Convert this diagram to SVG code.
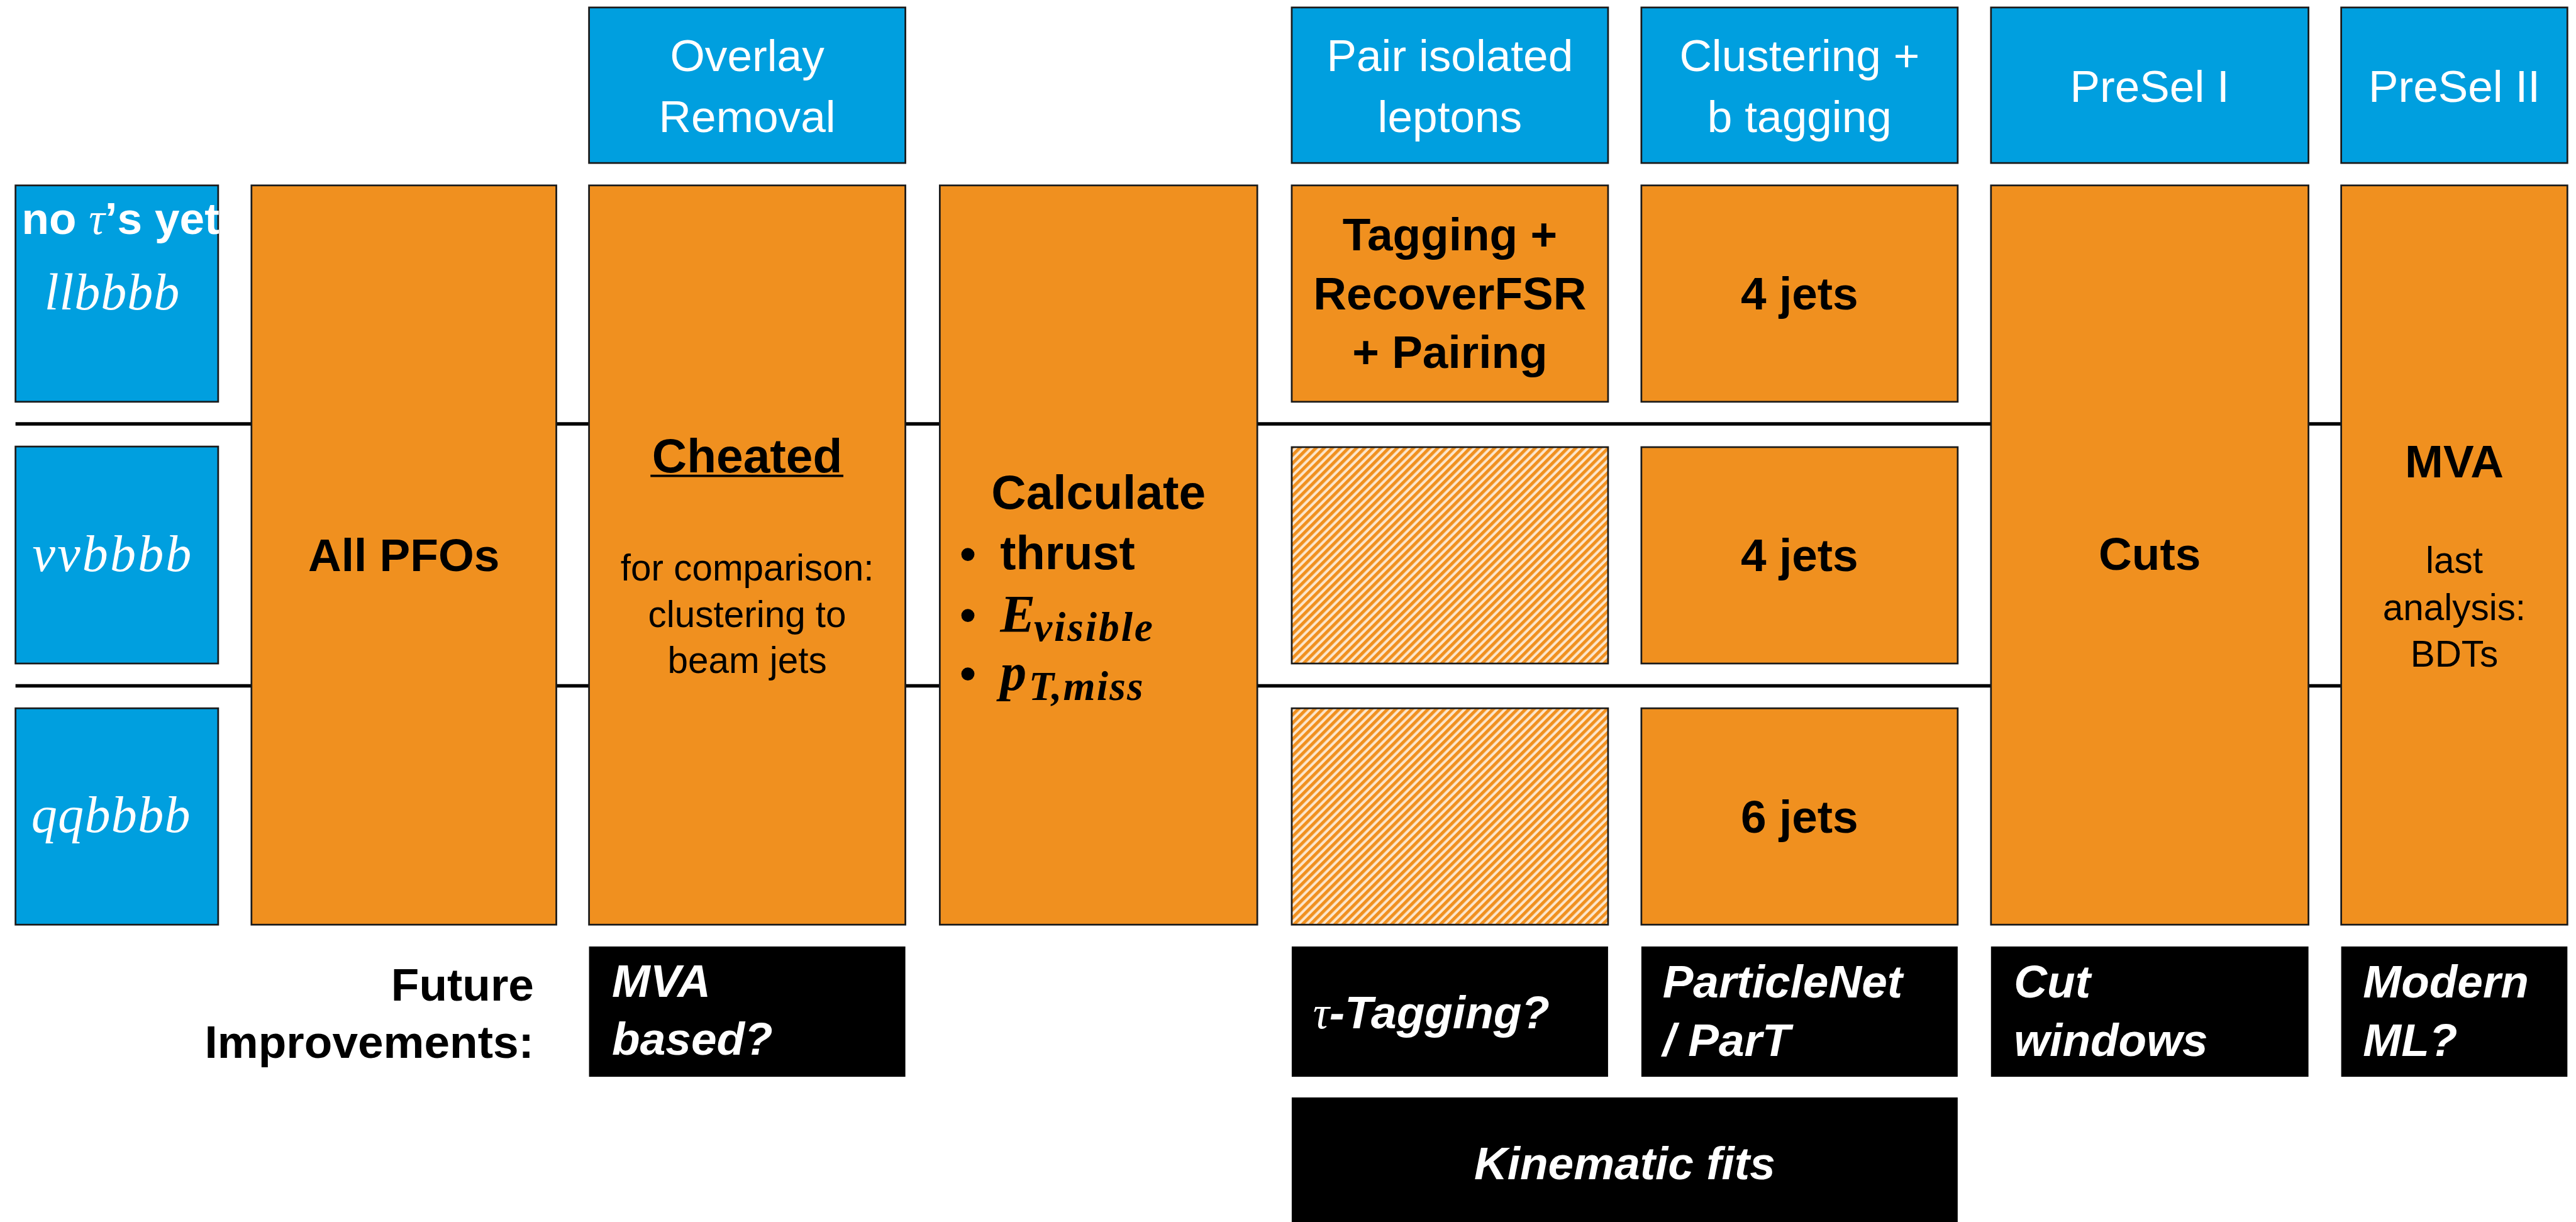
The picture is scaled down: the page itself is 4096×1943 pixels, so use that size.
<svg xmlns="http://www.w3.org/2000/svg" width="4096" height="1943" viewBox="0 0 4096 1943">
<style>
.blue{fill:#009FDF;stroke:#1a1a1a;stroke-width:3}
.orange{fill:#F0901F;stroke:#1a1a1a;stroke-width:3}
.hatch{fill:url(#hatch);stroke:#1a1a1a;stroke-width:3}
.black{fill:#000}
.conn{stroke:#000;stroke-width:6;fill:none}
.hd{font-family:"Liberation Sans",Arial,sans-serif;font-size:78px;fill:#fff;text-anchor:middle}
.bl{font-family:"Liberation Sans",Arial,sans-serif;font-size:80px;font-weight:bold;fill:#000;text-anchor:middle}
.bls{font-family:"Liberation Sans",Arial,sans-serif;font-size:80px;font-weight:bold;fill:#000;text-anchor:start}
.ble{font-family:"Liberation Sans",Arial,sans-serif;font-size:80px;font-weight:bold;fill:#000;text-anchor:end}
.rg{font-family:"Liberation Sans",Arial,sans-serif;font-size:64px;fill:#000;text-anchor:middle}
.fi{font-family:"Liberation Sans",Arial,sans-serif;font-size:80px;font-weight:bold;font-style:italic;fill:#fff}
.mw{font-family:"Liberation Serif","DejaVu Serif",serif;font-style:italic;font-size:90px;fill:#fff;text-anchor:middle}
.mb{font-family:"Liberation Serif","DejaVu Serif",serif;font-style:italic;font-weight:bold;fill:#000}
</style>
<defs>
<pattern id="hatch" patternUnits="userSpaceOnUse" width="10" height="10" patternTransform="rotate(45)">
<rect width="10" height="10" fill="#FCE6CC"/>
<rect width="5.5" height="10" fill="#F0901F"/>
</pattern>
</defs>
<rect width="4096" height="1943" fill="#fff"/>
<g transform="scale(0.91286,0.91263)">
<g id="connectors">
<line class="conn" x1="27" y1="738.5" x2="4078" y2="738.5"/>
<line class="conn" x1="27" y1="1195" x2="4078" y2="1195"/>
</g>

<g id="hdr-overlay"><rect class="blue" x="1026" y="13" width="551" height="271"/>
<text class="hd" x="1301.5" y="124">Overlay</text><text class="hd" x="1301.5" y="230">Removal</text></g>
<g id="hdr-pair"><rect class="blue" x="2250" y="13" width="551" height="271"/>
<text class="hd" x="2525.5" y="124">Pair isolated</text><text class="hd" x="2525.5" y="230">leptons</text></g>
<g id="hdr-cluster"><rect class="blue" x="2859" y="13" width="551" height="271"/>
<text class="hd" x="3134.5" y="124">Clustering +</text><text class="hd" x="3134.5" y="230">b tagging</text></g>
<g id="hdr-presel1"><rect class="blue" x="3468" y="13" width="553" height="271"/>
<text class="hd" x="3744.5" y="177">PreSel I</text></g>
<g id="hdr-presel2"><rect class="blue" x="4078" y="13" width="394" height="271"/>
<text class="hd" x="4275" y="177">PreSel II</text></g>

<g id="llbbbb"><rect class="blue" x="27" y="323" width="353" height="377"/>
<text x="210" y="408" text-anchor="middle" fill="#fff" font-family="Liberation Sans,Arial,sans-serif" font-weight="bold" font-size="78">no <tspan font-family="Liberation Serif,serif" font-style="italic" font-weight="normal">τ</tspan>’s yet</text>
<text class="mw" x="195" y="539" textLength="235">llbbbb</text></g>
<g id="vvbbbb"><rect class="blue" x="27" y="778" width="353" height="378"/>
<text class="mw" x="195" y="995" textLength="277">vvbbbb</text></g>
<g id="qqbbbb"><rect class="blue" x="27" y="1234" width="353" height="377"/>
<text class="mw" x="193" y="1450" textLength="277">qqbbbb</text></g>

<g id="allpfos"><rect class="orange" x="438" y="323" width="531" height="1288"/>
<text class="bl" x="703.5" y="995">All PFOs</text></g>

<g id="cheated"><rect class="orange" x="1026" y="323" width="551" height="1288"/>
<text class="bl" x="1301.5" y="823" style="font-size:84px">Cheated</text>
<line x1="1133" y1="829" x2="1469" y2="829" stroke="#000" stroke-width="4"/>
<text class="rg" x="1301.5" y="1011">for comparison:</text>
<text class="rg" x="1301.5" y="1092">clustering to</text>
<text class="rg" x="1301.5" y="1172">beam jets</text></g>

<g id="calculate"><rect class="orange" x="1637" y="323" width="553" height="1288"/>
<text class="bl" x="1913.5" y="887" style="font-size:84px">Calculate</text>
<text class="bls" x="1672" y="992">•</text>
<text class="bls" x="1742" y="992" style="font-size:83px">thrust</text>
<text class="bls" x="1672" y="1098">•</text>
<text class="mb" x="1742" y="1101" font-size="92">E</text>
<text class="mb" x="1801" y="1117" font-size="72" textLength="207">visible</text>
<text class="bls" x="1672" y="1200">•</text>
<text class="mb" x="1742" y="1202" font-size="92">p</text>
<text class="mb" x="1792" y="1220" font-size="72" textLength="199">T,miss</text></g>

<g id="tagging"><rect class="orange" x="2250" y="323" width="551" height="377"/>
<text class="bl" x="2525.5" y="436">Tagging +</text>
<text class="bl" x="2525.5" y="539">RecoverFSR</text>
<text class="bl" x="2525.5" y="641">+ Pairing</text></g>
<g id="hatch-vv"><rect class="hatch" x="2250" y="779" width="551" height="377"/></g>
<g id="hatch-qq"><rect class="hatch" x="2250" y="1234" width="551" height="377"/></g>

<g id="jets-ll"><rect class="orange" x="2859" y="323" width="551" height="377"/>
<text class="bl" x="3134.5" y="539">4 jets</text></g>
<g id="jets-vv"><rect class="orange" x="2859" y="779" width="551" height="377"/>
<text class="bl" x="3134.5" y="995">4 jets</text></g>
<g id="jets-qq"><rect class="orange" x="2859" y="1234" width="551" height="377"/>
<text class="bl" x="3134.5" y="1451">6 jets</text></g>

<g id="cuts"><rect class="orange" x="3468" y="323" width="553" height="1288"/>
<text class="bl" x="3744.5" y="993">Cuts</text></g>
<g id="mva"><rect class="orange" x="4078" y="323" width="394" height="1288"/>
<text class="bl" x="4275" y="832">MVA</text>
<text class="rg" x="4275" y="998">last</text>
<text class="rg" x="4275" y="1080">analysis:</text>
<text class="rg" x="4275" y="1161">BDTs</text></g>

<g id="future-label">
<text class="ble" x="930" y="1743">Future</text>
<text class="ble" x="930" y="1843">Improvements:</text></g>
<g id="fut-mva"><rect class="black" x="1026" y="1649" width="551" height="227"/>
<text class="fi" x="1066" y="1737">MVA</text><text class="fi" x="1066" y="1838">based?</text></g>
<g id="fut-tau"><rect class="black" x="2250" y="1649" width="551" height="227"/>
<text class="fi" x="2287" y="1792"><tspan font-family="Liberation Serif,serif" font-weight="normal">τ</tspan>-Tagging?</text></g>
<g id="fut-pnet"><rect class="black" x="2859" y="1649" width="551" height="227"/>
<text class="fi" x="2896" y="1738">ParticleNet</text><text class="fi" x="2896" y="1840">/ ParT</text></g>
<g id="fut-cut"><rect class="black" x="3468" y="1649" width="553" height="227"/>
<text class="fi" x="3508" y="1738">Cut</text><text class="fi" x="3508" y="1840">windows</text></g>
<g id="fut-ml"><rect class="black" x="4078" y="1649" width="394" height="227"/>
<text class="fi" x="4116" y="1738">Modern</text><text class="fi" x="4116" y="1840">ML?</text></g>
<g id="fut-kin"><rect class="black" x="2250" y="1912" width="1160" height="230"/>
<text class="fi" x="2830" y="2054" text-anchor="middle">Kinematic fits</text></g>
</g>
</svg>
